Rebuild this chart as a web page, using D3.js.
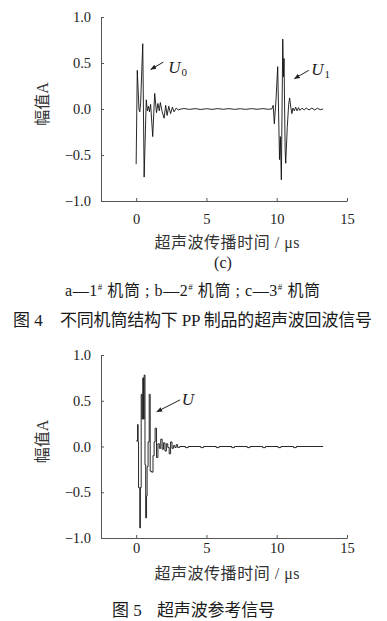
<!DOCTYPE html>
<html lang="zh">
<head>
<meta charset="UTF-8">
<title>超声波回波信号</title>
<script src="https://d3js.org/d3.v7.min.js"></script>
<style>
  body { margin: 0; background: #fff; }
  svg text { font-family: "Liberation Serif", "Times New Roman", "Noto Sans CJK SC", serif; fill: #222; }
  .axis path, .axis line { stroke: #555; stroke-width: 1; }
  .axis text { font-size: 14.5px; fill: #222; font-family: "Liberation Serif", serif; }
  .wave { fill: none; stroke: #111; stroke-width: 0.9; }
  .cap { fill: #1a1a1a; }
</style>
</head>
<body>
<svg id="fig" width="387" height="621"></svg>
<script>
// ---- data ----
// (c) echo signal of the 3# barrel: time (µs) / amplitude
const echoTime = [0.00, 0.08, 0.20, 0.26, 0.32, 0.47, 0.57, 0.72, 0.80, 0.88, 0.95, 1.03, 1.18, 1.32, 1.45, 1.55, 1.65, 1.72, 1.85, 1.99,
  2.10, 2.20, 2.32, 2.45, 2.58, 2.70, 2.85, 3.00, 3.20, 3.40, 3.80, 4.20, 4.60, 5.00, 5.40, 5.80, 6.20, 6.60, 7.00,
  7.40, 7.80, 8.20, 8.60, 9.00, 9.40, 9.65, 9.75, 9.83, 9.95, 10.07, 10.20, 10.26, 10.33, 10.43, 10.48, 10.52, 10.60,
  10.64, 10.75, 10.85, 10.92, 11.00, 11.08, 11.15, 11.25, 11.35, 11.45, 11.55, 11.65, 11.80, 11.95, 12.10, 12.30,
  12.50, 12.70, 12.90, 13.10, 13.30];
const echoAmp = [-0.60, 0.42, 0.00, -0.03, 0.07, 0.71, -0.74, 0.10, -0.02, 0.03, -0.03, 0.05, -0.30, 0.17, -0.04, 0.06, -0.02, 0.07, -0.03, -0.10,
  0.04, -0.07, 0.03, -0.05, 0.02, -0.03, 0.01, -0.01, 0.00, 0.005, -0.004, 0.004, -0.005, 0.003, -0.004, 0.004, -0.003, 0.004, -0.004,
  0.003, -0.004, 0.004, -0.003, 0.004, -0.003, 0.00, 0.04, -0.16, 0.10, 0.46, -0.55, -0.30, -0.77, 0.76, 0.35, 0.55, -0.45,
  -0.59, -0.20, 0.05, 0.12, 0.02, -0.05, 0.01, -0.02, 0.02, -0.02, 0.015, -0.015, 0.01, -0.01, 0.01, -0.01,
  0.01, -0.01, 0.008, -0.008, 0.00];

// reference signal (sampled, drawn as steps)
const refTime = [0.00, 0.10, 0.14, 0.17, 0.26, 0.30, 0.36, 0.42, 0.47, 0.52, 0.57, 0.63, 0.68, 0.74, 0.78, 0.85, 0.93, 1.00, 1.10, 1.20,
  1.28, 1.35, 1.45, 1.55, 1.65, 1.75, 1.85, 1.95, 2.05, 2.15, 2.25, 2.35, 2.45, 2.55, 2.65, 2.75, 2.85, 2.95, 3.10,
  3.50, 3.70, 4.60, 4.80, 5.70, 5.90, 6.80, 7.00, 7.90, 8.10, 9.00, 9.20, 10.10, 10.30, 11.20, 11.40, 13.30];
const refAmp = [0.06, 0.24, 0.05, -0.45, -0.89, -0.45, 0.57, 0.30, 0.75, 0.30, 0.78, -0.20, -0.78, -0.54, -0.22, 0.05, 0.57, -0.27, -0.28, -0.10,
  0.05, 0.20, -0.12, 0.03, -0.02, 0.08, -0.03, 0.04, -0.05, 0.03, -0.01, -0.08, 0.05, -0.02, 0.01, -0.01, 0.02, -0.01, 0.00,
  -0.012, 0.00, -0.012, 0.00, -0.012, 0.00, -0.012, 0.00, -0.012, 0.00, -0.012, 0.00, -0.012, 0.00, -0.012, 0.00, 0.00];

const xTicks = [0, 5, 10, 15];
const yTicks = [-1.0, -0.5, 0.0, 0.5, 1.0];
const xDomain = [-2.5, 15];
const yDomain = [-1, 1];

// annotations in data coordinates: label, subscript, text anchor point, arrow tail, arrow head
const echoNotes = [
  { label: "U", sub: "0", at: [2.28, 0.39], tail: [1.94, 0.51], head: [1.04, 0.43] },
  { label: "U", sub: "1", at: [12.45, 0.37], tail: [12.28, 0.42], head: [11.26, 0.33] }
];
const refNotes = [
  { label: "U", sub: "", at: [3.25, 0.45], tail: [3.13, 0.51], head: [1.47, 0.38] }
];

const svg = d3.select("#fig");

svg.append("defs").append("marker")
  .attr("id", "arrow")
  .attr("viewBox", "0 0 10 10")
  .attr("refX", 9).attr("refY", 5)
  .attr("markerWidth", 6).attr("markerHeight", 6)
  .attr("markerUnits", "userSpaceOnUse")
  .attr("orient", "auto")
  .append("path")
  .attr("d", "M0,1 L10,5 L0,9 Z")
  .attr("fill", "#222");

function drawPanel(opt) {
  const x = d3.scaleLinear().domain(xDomain).range([101, 347]);
  const y = d3.scaleLinear().domain(yDomain).range([opt.bottom, opt.top]);
  const g = svg.append("g");

  g.append("g").attr("class", "axis")
    .attr("transform", `translate(0,${opt.bottom})`)
    .call(d3.axisBottom(x).tickValues(xTicks).tickFormat(d3.format("d"))
      .tickSizeInner(-3).tickSizeOuter(0).tickPadding(opt.xPad));

  g.append("g").attr("class", "axis")
    .attr("transform", "translate(101,0)")
    .call(d3.axisLeft(y).tickValues(yTicks).tickFormat(d3.format(".1f"))
      .tickSizeInner(-3).tickSizeOuter(0).tickPadding(10));

  const pts = opt.times.map((t, i) => [t, opt.amps[i]]);
  const line = d3.line().x(d => x(d[0])).y(d => y(d[1])).curve(opt.curve);
  g.append("path").datum(pts).attr("class", "wave").attr("d", line);

  // y title
  g.append("text")
    .attr("transform", `translate(42,${(opt.top + opt.bottom) / 2 - 5}) rotate(-90)`)
    .attr("text-anchor", "middle")
    .attr("dominant-baseline", "central")
    .style("font-size", "16px").style("fill", "#333")
    .text("幅值A");

  // x title
  g.append("text")
    .attr("x", 227).attr("y", opt.bottom + opt.titleGap)
    .attr("text-anchor", "middle")
    .attr("textLength", 145).attr("lengthAdjust", "spacing")
    .style("font-size", "16px").style("fill", "#333")
    .text("超声波传播时间 / μs");

  // annotations
  opt.notes.forEach(n => {
    g.append("line")
      .attr("x1", x(n.tail[0])).attr("y1", y(n.tail[1]))
      .attr("x2", x(n.head[0])).attr("y2", y(n.head[1]))
      .attr("stroke", "#222").attr("stroke-width", 1)
      .attr("marker-end", "url(#arrow)");
    const t = g.append("text")
      .attr("x", x(n.at[0])).attr("y", y(n.at[1]))
      .style("font-size", "17px");
    t.append("tspan").style("font-style", "italic").text(n.label);
    if (n.sub) t.append("tspan").attr("dx", 1).attr("dy", 3).style("font-size", "11px").text(n.sub);
  });
}

drawPanel({ top: 17, bottom: 201, times: echoTime, amps: echoAmp, curve: d3.curveLinear,
  xPad: 13, titleGap: 47, notes: echoNotes });
drawPanel({ top: 355, bottom: 538, times: refTime, amps: refAmp, curve: d3.curveStepAfter,
  xPad: 5, titleGap: 41, notes: refNotes });

// sub-figure letter and captions
svg.append("text").attr("x", 223).attr("y", 268).attr("text-anchor", "middle")
  .style("font-size", "16px").attr("class", "cap").text("(c)");

const legend = svg.append("text").attr("x", 65).attr("y", 296)
  .attr("textLength", 255).attr("lengthAdjust", "spacing")
  .style("font-size", "16px").attr("class", "cap");
const legendParts = ["a—1", "#", " 机筒 ; b—2", "#", " 机筒 ; c—3", "#", " 机筒"];
legendParts.forEach((s, i) => {
  const sup = s === "#";
  legend.append("tspan")
    .attr("dy", sup ? -6 : (i > 0 ? 6 : 0))
    .style("font-size", sup ? "9px" : null)
    .text(s);
});

svg.append("text").attr("x", 13).attr("y", 326).style("font-size", "17px").attr("class", "cap").text("图 4");
svg.append("text").attr("x", 60).attr("y", 326).style("font-size", "17px").attr("class", "cap")
  .attr("textLength", 312).attr("lengthAdjust", "spacing")
  .text("不同机筒结构下 PP 制品的超声波回波信号");

svg.append("text").attr("x", 112).attr("y", 616).style("font-size", "17px").attr("class", "cap").text("图 5");
svg.append("text").attr("x", 157).attr("y", 616).style("font-size", "17px").attr("class", "cap")
  .attr("textLength", 118).attr("lengthAdjust", "spacing")
  .text("超声波参考信号");
</script>
</body>
</html>
